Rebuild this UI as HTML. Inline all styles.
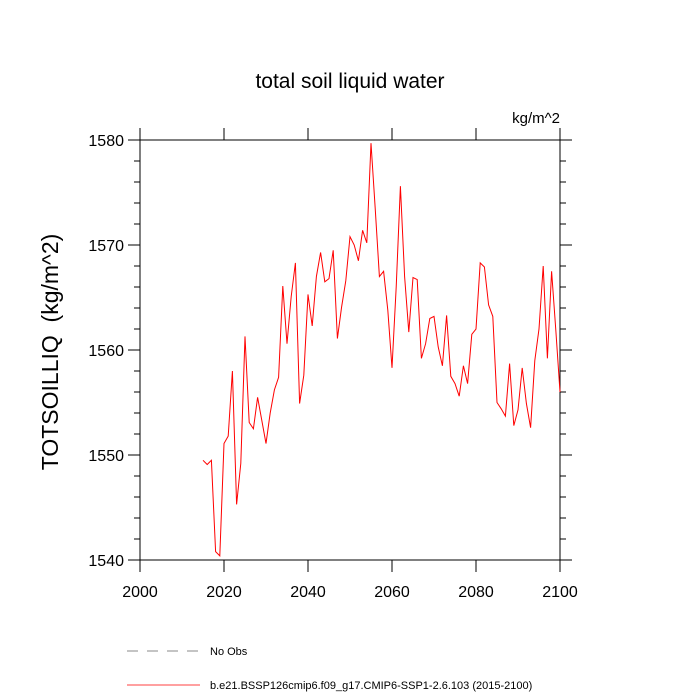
<!DOCTYPE html>
<html><head><meta charset="utf-8"><style>
body{margin:0;background:#fff;}
svg{display:block;font-family:"Liberation Sans",sans-serif;}
</style></head><body>
<svg id="chart" width="700" height="700">
<text x="350" y="88" font-size="21" text-anchor="middle">total soil liquid water</text>
<text x="560" y="123" font-size="15" text-anchor="end">kg/m^2</text>
<text transform="translate(58,352) rotate(-90)" font-size="23" text-anchor="middle" xml:space="preserve" style="white-space:pre">TOTSOILLIQ  (kg/m^2)</text>
<g id="axes"></g>
<g id="legend">
<line x1="127" y1="651" x2="200" y2="651" stroke="#888" stroke-dasharray="11,9"/>
<text x="210" y="655" font-size="11">No Obs</text>
<line x1="127" y1="685" x2="200" y2="685" stroke="#f00" stroke-width="0.8"/>
<text x="210" y="689" font-size="11">b.e21.BSSP126cmip6.f09_g17.CMIP6-SSP1-2.6.103 (2015-2100)</text>
</g>
</svg>
<script>
const startYear = 2015;
const values = [1549.5,1549.1,1549.5,1540.8,1540.4,1551.1,1551.8,1558.0,1545.3,1549.2,
1561.3,1553.1,1552.5,1555.5,1553.3,1551.1,1554.0,1556.2,1557.4,1566.1,
1560.6,1565.1,1568.3,1554.9,1557.6,1565.3,1562.3,1567.0,1569.3,1566.5,
1566.8,1569.5,1561.1,1564.1,1566.6,1570.8,1570.0,1568.5,1571.4,1570.2,
1579.7,1573.5,1567.0,1567.5,1563.8,1558.3,1566.0,1575.6,1567.0,1561.7,
1566.9,1566.7,1559.2,1560.6,1563.0,1563.2,1560.3,1558.5,1563.3,1557.5,
1556.8,1555.6,1558.5,1556.8,1561.5,1562.0,1568.3,1567.9,1564.3,1563.2,
1555.0,1554.4,1553.7,1558.7,1552.8,1554.3,1558.3,1554.9,1552.6,1559.0,
1562.0,1568.0,1559.2,1567.5,1561.9,1556.0];
const xTicks = [2000,2020,2040,2060,2080,2100];
const yTicks = [1540,1550,1560,1570,1580];
const xMin=2000,xMax=2100,yMin=1540,yMax=1580;
const L=140,R=560,T=140,B=560;
const sx=v=>L+(v-xMin)/(xMax-xMin)*(R-L);
const sy=v=>B-(v-yMin)/(yMax-yMin)*(B-T);
const NS="http://www.w3.org/2000/svg";
const g=document.getElementById('axes');
function mk(t,a){const e=document.createElementNS(NS,t);for(const k in a)e.setAttribute(k,a[k]);g.appendChild(e);return e;}
const frame=mk('rect',{x:L,y:T,width:R-L,height:B-T,fill:'none',stroke:'#000','stroke-width':1});


xTicks.forEach(v=>{
  const x=sx(v);
  const t1=mk('line',{x1:x,y1:B,x2:x,y2:B+12,stroke:'#000'});
  
  
  const t2=mk('line',{x1:x,y1:T,x2:x,y2:T-12,stroke:'#000'});
  
  
  const tx=mk('text',{x:x,y:B+37,'font-size':16,'text-anchor':'middle'});
  tx.textContent=v;
  
  
});
for(let v=yMin;v<=yMax;v+=2){
  const y=sy(v);const major=(v%10===0);const len=major?12:6;
  const a=mk('line',{x1:L,y1:y,x2:L-len,y2:y,stroke:'#000'});
  
  
  const b=mk('line',{x1:R,y1:y,x2:R+len,y2:y,stroke:'#000'});
  
  
}
yTicks.forEach(v=>{
  const tx=mk('text',{x:L-16,y:sy(v)+6,'font-size':16,'text-anchor':'end'});
  tx.textContent=v;
  
  
});
const pts=values.map((v,i)=>sx(startYear+i).toFixed(1)+','+sy(v).toFixed(1)).join(' ');
const line=mk('polyline',{points:pts,fill:'none',stroke:'#f00','stroke-width':1});


</script>
</body></html>
